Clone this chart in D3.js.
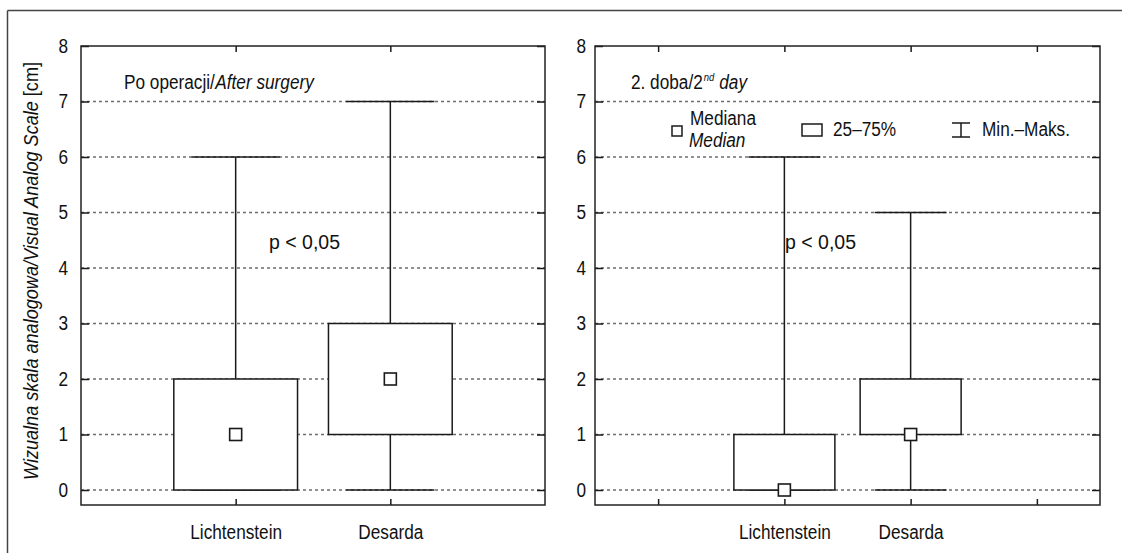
<!DOCTYPE html>
<html><head><meta charset="utf-8">
<script src="https://cdn.jsdelivr.net/npm/d3@7"></script>
<style>
html,body{margin:0;padding:0;background:#fff;}
text{font-family:"Liberation Sans",Arial,sans-serif;fill:#111;}
</style></head>
<body><svg id="c" width="1122" height="553"></svg>
<script>
// ---- data ----
const categories = ["Lichtenstein", "Desarda"];
const xDomain = ["_pre", "Lichtenstein", "Desarda", "_post"];
const yTicks = [0, 1, 2, 3, 4, 5, 6, 7, 8];
// Panel 1: Po operacji / After surgery
const afterMin = [0, 0];
const afterQ1 = [0, 1];
const afterMedian = [1, 2];
const afterQ3 = [2, 3];
const afterMax = [6, 7];
// Panel 2: 2. doba / 2nd day
const day2Min = [0, 0];
const day2Q1 = [0, 1];
const day2Median = [0, 1];
const day2Q3 = [1, 2];
const day2Max = [6, 5];
const pText = "p < 0,05";

const svg = d3.select("#c");
const ink = "#1a1a1a";
const FS = 20;

svg.append("line").attr("x1",7.5).attr("y1",10.5).attr("x2",1122).attr("y2",10.5).attr("stroke","#444").attr("stroke-width",1.5);
svg.append("line").attr("x1",7.5).attr("y1",10.5).attr("x2",7.5).attr("y2",553).attr("stroke","#444").attr("stroke-width",1.5);

const plotTop = 46, plotBottom = 505;
const y = d3.scaleLinear().domain([0, 8]).range([490, 46]);

function panel(x0, x1, padding, tickCats, mins, q1s, meds, q3s, maxs, labelGap) {
  const g = svg.append("g");
  const x = d3.scalePoint().domain(xDomain).range([x0, x1]).padding(padding);
  const step = x.step();
  g.selectAll(".grid").data(yTicks.filter(t => t < 8)).join("line")
    .attr("x1", x0).attr("x2", x1).attr("y1", d => y(d)).attr("y2", d => y(d))
    .attr("stroke", "#6e6e6e").attr("stroke-width", 1.5).attr("stroke-dasharray", "3,3");
  const yl = d3.axisLeft(y).tickValues(yTicks).tickSizeInner(-8).tickSizeOuter(0).tickPadding(labelGap + 8);
  const ya = g.append("g").attr("transform", `translate(${x0},0)`).call(yl);
  ya.select(".domain").remove();
  ya.attr("font-family", null);
  ya.selectAll("line").attr("stroke", ink).attr("stroke-width", 1.5);
  ya.selectAll("text").attr("font-size", FS).style("fill", "#111");
  const yr = d3.axisRight(y).tickValues(yTicks).tickSizeInner(-8).tickSizeOuter(0).tickFormat("");
  const yra = g.append("g").attr("transform", `translate(${x1},0)`).call(yr);
  yra.select(".domain").remove();
  yra.selectAll("line").attr("stroke", ink).attr("stroke-width", 1.5);
  const xb = d3.axisBottom(x).tickValues(tickCats).tickSizeInner(-6).tickSizeOuter(0)
    .tickFormat(d => categories.includes(d) ? d : "").tickPadding(20);
  const xba = g.append("g").attr("transform", `translate(0,${plotBottom})`).call(xb);
  xba.select(".domain").remove();
  xba.attr("font-family", null);
  xba.selectAll("line").attr("stroke", ink).attr("stroke-width", 1.5);
  xba.selectAll("text").attr("font-size", FS).style("fill", "#111");
  const xt = d3.axisTop(x).tickValues(tickCats).tickSizeInner(-6).tickSizeOuter(0).tickFormat("");
  const xta = g.append("g").attr("transform", `translate(0,${plotTop})`).call(xt);
  xta.select(".domain").remove();
  xta.selectAll("line").attr("stroke", ink).attr("stroke-width", 1.5);

  const bw = step * 0.8, cw = step * 0.57;
  categories.forEach((c, i) => {
    const cx = x(c);
    g.append("line").attr("x1", cx).attr("x2", cx).attr("y1", y(maxs[i])).attr("y2", y(q3s[i])).attr("stroke", ink).attr("stroke-width", 1.5);
    g.append("line").attr("x1", cx).attr("x2", cx).attr("y1", y(q1s[i])).attr("y2", y(mins[i])).attr("stroke", ink).attr("stroke-width", 1.5);
    [maxs[i], mins[i]].forEach(v => {
      g.append("line").attr("x1", cx - cw/2).attr("x2", cx + cw/2).attr("y1", y(v)).attr("y2", y(v)).attr("stroke", ink).attr("stroke-width", 1.5);
    });
    g.append("rect").attr("x", cx - bw/2).attr("width", bw).attr("y", y(q3s[i])).attr("height", y(q1s[i]) - y(q3s[i]))
      .attr("fill", "#fff").attr("stroke", ink).attr("stroke-width", 1.5);
    g.append("rect").attr("x", cx - 6).attr("y", y(meds[i]) - 6).attr("width", 12).attr("height", 12)
      .attr("fill", "#fff").attr("stroke", ink).attr("stroke-width", 1.6);
  });
  g.append("rect").attr("x", x0).attr("y", plotTop).attr("width", x1 - x0).attr("height", plotBottom - plotTop)
    .attr("fill", "none").attr("stroke", "#222").attr("stroke-width", 1.5);
  return {g, x};
}

const L = panel(81, 545, 0, categories, afterMin, afterQ1, afterMedian, afterQ3, afterMax, 5);
const R = panel(595, 1100, 0.5, xDomain, day2Min, day2Q1, day2Median, day2Q3, day2Max, 1);

// panel titles (split into runs so each run is its own text)
const t1a = svg.append("text").attr("x", 124).attr("y", 89).attr("font-size", FS).text("Po operacji/");
const t1b = svg.append("text").attr("y", 89).attr("font-size", FS).attr("font-style", "italic").text("After surgery");
const t2a = svg.append("text").attr("x", 631).attr("y", 89).attr("font-size", FS).text("2. doba/2");
const t2b = svg.append("text").attr("y", 81).attr("font-size", 11).attr("font-style", "italic").text("nd");
const t2c = svg.append("text").attr("y", 89).attr("font-size", FS).attr("font-style", "italic").text("day");

// p-values
svg.append("text").attr("x", 269).attr("y", 249).attr("font-size", FS).attr("data-w", 71).text(pText);
svg.append("text").attr("x", 785).attr("y", 249).attr("font-size", FS).attr("data-w", 71).text(pText);

// legend
svg.append("rect").attr("x", 672).attr("y", 126).attr("width", 10).attr("height", 10).attr("fill", "#fff").attr("stroke", ink).attr("stroke-width", 1.5);
svg.append("text").attr("x", 690).attr("y", 125).attr("font-size", FS).text("Mediana");
svg.append("text").attr("x", 689).attr("y", 147).attr("font-size", FS).attr("font-style", "italic").text("Median");
svg.append("rect").attr("x", 802).attr("y", 124).attr("width", 20).attr("height", 12).attr("fill", "#fff").attr("stroke", ink).attr("stroke-width", 1.5);
svg.append("text").attr("x", 833).attr("y", 136).attr("font-size", FS).text("25–75%");
const wl = svg.append("g").attr("stroke", ink).attr("stroke-width", 1.5);
wl.append("line").attr("x1", 952).attr("x2", 970).attr("y1", 123).attr("y2", 123);
wl.append("line").attr("x1", 952).attr("x2", 970).attr("y1", 137).attr("y2", 137);
wl.append("line").attr("x1", 961).attr("x2", 961).attr("y1", 123).attr("y2", 137);
svg.append("text").attr("x", 982).attr("y", 136).attr("font-size", FS).text("Min.–Maks.");

// y axis title
const yt = svg.append("text").attr("transform", "translate(38,271) rotate(-90)").attr("text-anchor", "middle").attr("font-size", FS).attr("data-w", 418);
yt.append("tspan").attr("font-style", "italic").text("Wizualna skala analogowa/Visual Analog Scale");
yt.append("tspan").text(" [cm]");

// condense all text (the reference uses a condensed face)
const SQ = 0.86;
const items = [];
svg.selectAll("text").each(function() {
  const w = this.getAttribute("data-w");
  const len = this.getComputedTextLength();
  if (len > 0) items.push([this, w ? +w : len * SQ]);
});
items.forEach(([el, w]) => {
  el.setAttribute("textLength", w.toFixed(2));
  el.setAttribute("lengthAdjust", "spacingAndGlyphs");
});
// chain the split runs after their squeezed predecessors
t1b.attr("x", 124 + (+t1a.attr("textLength")) + 0.5);
const wa = +t2a.attr("textLength");
t2b.attr("x", 631 + wa + 1);
const wb = +t2b.attr("textLength");
t2c.attr("x", 631 + wa + 1 + wb + 5);
</script></body></html>
